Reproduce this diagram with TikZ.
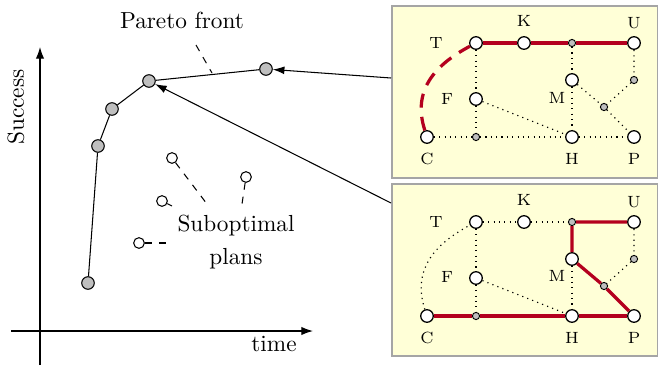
\documentclass[tikz,border=0pt]{standalone}
\usetikzlibrary{arrows.meta}
\definecolor{panelfill}{RGB}{255,255,215}
\definecolor{panelline}{RGB}{165,165,165}
\definecolor{pathred}{RGB}{180,0,30}
\tikzset{
  pareto/.style={circle,draw,fill=black!25,inner sep=0pt,minimum size=5.4pt,line width=0.45pt},
  subopt/.style={circle,draw,fill=white,inner sep=0pt,minimum size=4.6pt,line width=0.45pt},
  wnode/.style={circle,draw,fill=white,inner sep=0pt,minimum size=5.4pt,line width=0.55pt},
  gnode/.style={circle,draw,fill=black!25,inner sep=0pt,minimum size=3.1pt,line width=0.4pt},
  lbl/.style={font=\scriptsize,inner sep=0pt},
  panel/.style={draw=panelline,fill=panelfill,line width=0.8pt},
  edge/.style={line width=0.5pt,dash pattern=on 0.5pt off 1.8pt},
  redpath/.style={draw=pathred,line width=1.4pt},
  axis/.style={line width=0.5pt,-{Latex[length=5pt,width=3.6pt]}},
  bigarrow/.style={line width=0.45pt,-{Latex[length=5pt,width=3.4pt]}},
}
\begin{document}
\begin{tikzpicture}[x=0.43pt,y=-0.43pt]
\useasboundingbox (0,0) rectangle (658,366);
% axes
\coordinate (yb) at (40,365);
\coordinate (yt) at (40,47);
\coordinate (xl) at (11,331);
\coordinate (xr) at (313,331);
\draw[axis] (yb) -- (yt);
\draw[axis] (xl) -- (xr);
\node[rotate=90] (succ) at (16,107) {Success};
\node (time) at (274,344) {time};
% pareto front
\node[pareto] (p1) at (88,283) {};
\node[pareto] (p2) at (98,146) {};
\node[pareto] (p3) at (112,109) {};
\node[pareto] (p4) at (149,81) {};
\node[pareto] (p5) at (266,69) {};
\draw[line width=0.45pt] (p1) -- (p2) -- (p3) -- (p4) -- (p5);
\node (pf) at (182,20) {Pareto front};
\coordinate (pfa) at (196,45);
\coordinate (pfb) at (212,73);
\draw[dashed,line width=0.45pt] (pfa) -- (pfb);
% suboptimal
\node[subopt] (s1) at (172,158) {};
\node[subopt] (s2) at (246,177) {};
\node[subopt] (s3) at (162,201) {};
\node[subopt] (s4) at (139,243) {};
\node[align=center] (sp) at (236,242) {Suboptimal\\[2pt]plans};
\coordinate (e1) at (207,204);
\coordinate (e2) at (242,204);
\coordinate (e3) at (172,206);
\coordinate (e4) at (172,243);
\draw[dashed,line width=0.45pt] (s1) -- (e1);
\draw[dashed,line width=0.45pt] (s2) -- (e2);
\draw[dashed,line width=0.45pt] (s3) -- (e3);
\draw[dashed,line width=0.45pt] (s4) -- (e4);
% panels
\node[panel,minimum width=266*0.43pt,minimum height=172*0.43pt,inner sep=0pt,anchor=north west] (b1) at (391,5) {};
\node[panel,minimum width=266*0.43pt,minimum height=172*0.43pt,inner sep=0pt,anchor=north west] (b2) at (391,183) {};
\coordinate (a1) at (391,78);
\coordinate (a2) at (391,203);
\draw[bigarrow] (a1) -- (p5);
\draw[bigarrow] (a2) -- (p4);
% panel 1 graph
\begin{scope}
\node[wnode] (T1) at (476,43) {};
\node[wnode] (K1) at (524,43) {};
\node[gnode] (G1) at (572,43) {};
\node[wnode] (U1) at (634,43) {};
\node[wnode] (F1) at (476,99) {};
\node[wnode] (M1) at (572,80) {};
\node[gnode] (GU1) at (634,80) {};
\node[gnode] (GM1) at (604,107) {};
\node[wnode] (C1) at (427,137) {};
\node[gnode] (GF1) at (476,137) {};
\node[wnode] (H1) at (572,137) {};
\node[wnode] (P1) at (634,137) {};
\node[lbl] (lT1) at (436,43) {T};
\node[lbl] (lK1) at (524,21) {K};
\node[lbl] (lU1) at (634,23) {U};
\node[lbl] (lF1) at (447,99) {F};
\node[lbl] (lM1) at (557,98) {M};
\node[lbl] (lC1) at (427,159) {C};
\node[lbl] (lH1) at (572,159) {H};
\node[lbl] (lP1) at (634,159) {P};
\draw[edge] (T1) -- (F1) -- (GF1);
\draw[edge] (C1) -- (GF1) -- (H1) -- (P1);
\draw[edge] (F1) -- (H1);
\draw[edge] (G1) -- (M1) -- (H1);
\draw[edge] (M1) -- (GM1) -- (P1);
\draw[edge] (U1) -- (GU1) -- (GM1);
\draw[redpath,dash pattern=on 6pt off 4pt] (C1) to[out=108,in=208,looseness=1.1] (T1);
\draw[redpath] (T1) -- (K1) -- (G1) -- (U1);
\end{scope}
% panel 2 graph
\begin{scope}
\node[wnode] (T2) at (476,222) {};
\node[wnode] (K2) at (524,222) {};
\node[gnode] (G2) at (572,222) {};
\node[wnode] (U2) at (634,222) {};
\node[wnode] (F2) at (476,278) {};
\node[wnode] (M2) at (572,259) {};
\node[gnode] (GU2) at (634,259) {};
\node[gnode] (GM2) at (604,286) {};
\node[wnode] (C2) at (427,316) {};
\node[gnode] (GF2) at (476,316) {};
\node[wnode] (H2) at (572,316) {};
\node[wnode] (P2) at (634,316) {};
\node[lbl] (lT2) at (436,222) {T};
\node[lbl] (lK2) at (524,200) {K};
\node[lbl] (lU2) at (634,202) {U};
\node[lbl] (lF2) at (447,277) {F};
\node[lbl] (lM2) at (557,276) {M};
\node[lbl] (lC2) at (427,338) {C};
\node[lbl] (lH2) at (572,338) {H};
\node[lbl] (lP2) at (634,338) {P};
\draw[edge] (T2) -- (K2) -- (G2);
\draw[edge] (T2) -- (F2) -- (GF2);
\draw[edge] (F2) -- (H2);
\draw[edge] (M2) -- (H2);
\draw[edge] (U2) -- (GU2) -- (GM2);
\draw[edge] (C2) to[out=108,in=208,looseness=1.1] (T2);
\draw[redpath] (U2) -- (G2) -- (M2) -- (GM2) -- (P2);
\draw[redpath] (C2) -- (GF2) -- (H2) -- (P2);
\end{scope}
\end{tikzpicture}
\end{document}
